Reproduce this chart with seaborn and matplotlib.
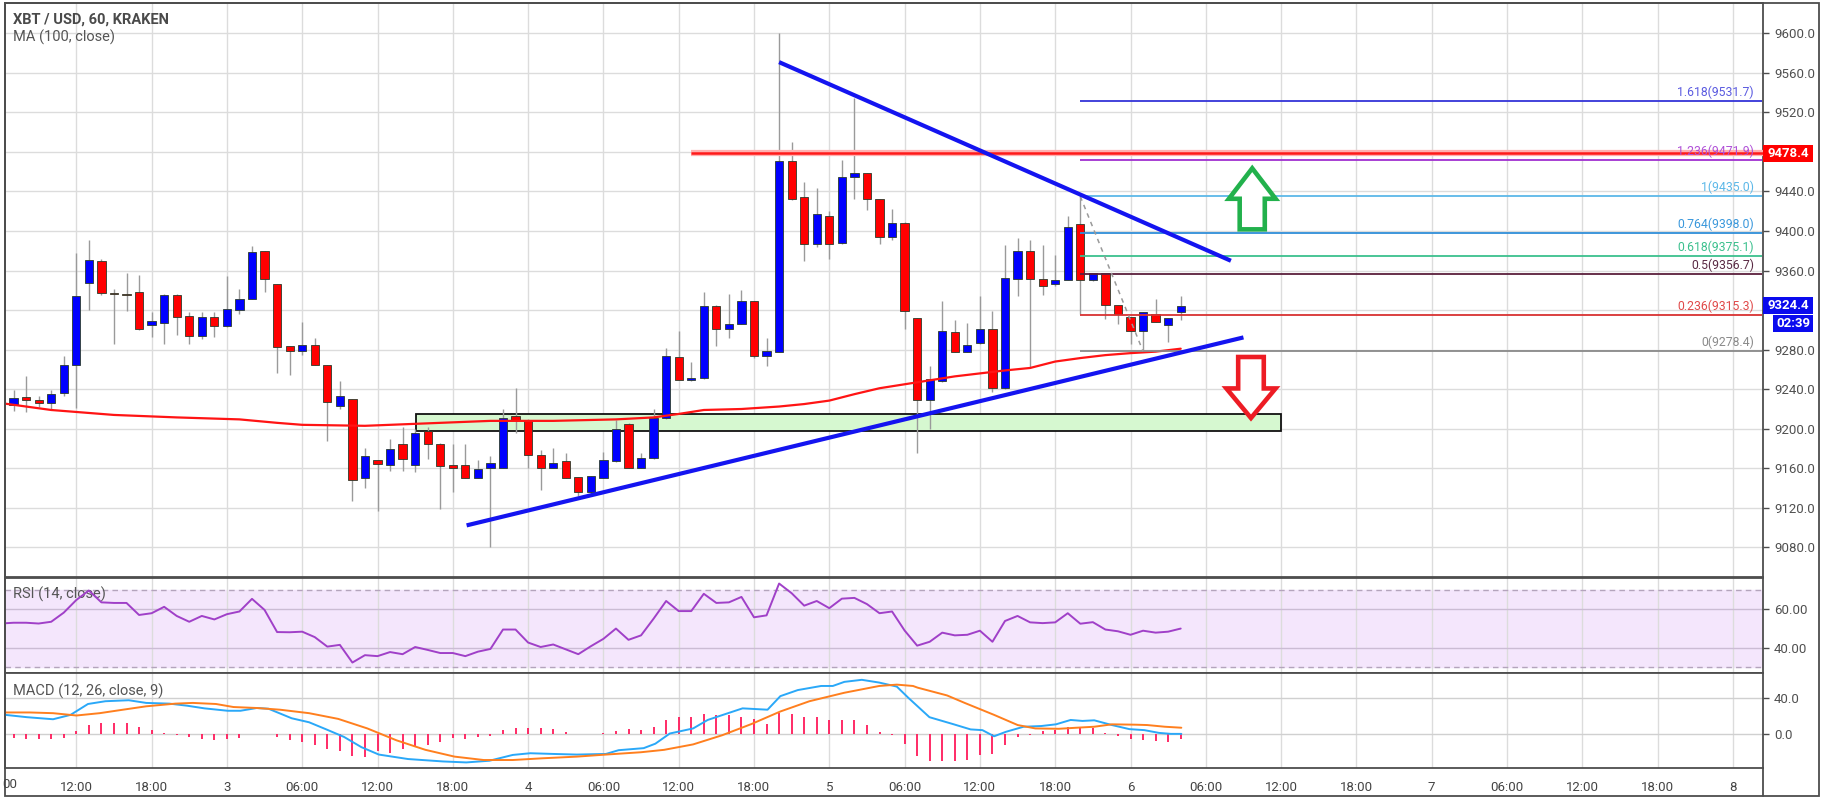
import numpy as np
import pandas as pd
import matplotlib
matplotlib.use("Agg")
import matplotlib.pyplot as plt
import seaborn as sns
from matplotlib import font_manager
from matplotlib.patches import Polygon, Rectangle
from matplotlib.transforms import blended_transform_factory
from matplotlib.ticker import FuncFormatter, FixedLocator

# ---------------- data ----------------
candle_hour = list(range(6, 101))  # hours since day 2 00:00
opens = [9241, 9224, 9232, 9229, 9226, 9236, 9264, 9347, 9370, 9337, 9336, 9338, 9305, 9307, 9335, 9314, 9294, 9313, 9304, 9320,
         9331, 9380, 9346, 9284, 9279, 9285, 9264, 9223, 9230, 9150, 9168, 9163, 9185, 9163, 9198, 9185, 9163, 9163, 9150, 9160,
         9160, 9213, 9209, 9173, 9160, 9167, 9151, 9136, 9150, 9167, 9205, 9160, 9170, 9211, 9273, 9249, 9251, 9324, 9301, 9306,
         9329, 9274, 9278, 9471, 9434, 9387, 9415, 9388, 9455, 9459, 9432, 9394, 9408, 9312, 9229, 9248, 9298, 9278, 9287, 9301,
         9241, 9351, 9380, 9351, 9346, 9350, 9407, 9350, 9358, 9325, 9313, 9299, 9316, 9305, 9318]
highs = [9244, 9239, 9253, 9233, 9239, 9274, 9378, 9391, 9372, 9341, 9358, 9356, 9318, 9336, 9336, 9318, 9318, 9318, 9355, 9341,
         9385, 9380, 9346, 9284, 9308, 9292, 9264, 9248, 9230, 9181, 9168, 9190, 9202, 9200, 9202, 9186, 9185, 9185, 9168, 9172,
         9220, 9241, 9210, 9179, 9181, 9176, 9151, 9152, 9177, 9209, 9206, 9176, 9220, 9282, 9299, 9268, 9338, 9325, 9336, 9340,
         9329, 9292, 9600, 9490, 9450, 9443, 9420, 9472, 9535, 9459, 9432, 9422, 9409, 9312, 9263, 9329, 9310, 9307, 9334, 9319,
         9386, 9393, 9391, 9386, 9376, 9415, 9435, 9358, 9358, 9325, 9313, 9318, 9331, 9312, 9334]
lows = [9222, 9218, 9217, 9222, 9220, 9233, 9221, 9320, 9335, 9286, 9319, 9300, 9293, 9286, 9295, 9286, 9291, 9293, 9303, 9316,
        9331, 9338, 9256, 9254, 9275, 9264, 9188, 9220, 9127, 9140, 9117, 9157, 9157, 9156, 9169, 9119, 9136, 9150, 9150, 9080,
        9160, 9196, 9160, 9138, 9160, 9150, 9132, 9134, 9150, 9166, 9160, 9160, 9169, 9210, 9249, 9248, 9250, 9284, 9292, 9306,
        9272, 9263, 9278, 9431, 9370, 9384, 9372, 9387, 9432, 9421, 9387, 9391, 9301, 9176, 9200, 9247, 9278, 9278, 9286, 9237,
        9240, 9334, 9261, 9335, 9344, 9350, 9316, 9349, 9311, 9306, 9286, 9278, 9308, 9288, 9310]
closes = [9224, 9231, 9229, 9226, 9235, 9265, 9334, 9371, 9337, 9336, 9335, 9301, 9309, 9335, 9313, 9294, 9313, 9304, 9321, 9331,
          9379, 9351, 9283, 9279, 9285, 9264, 9227, 9233, 9148, 9172, 9164, 9180, 9169, 9196, 9185, 9162, 9160, 9150, 9159, 9165,
          9211, 9209, 9173, 9160, 9165, 9150, 9136, 9152, 9168, 9200, 9160, 9170, 9211, 9274, 9249, 9251, 9324, 9301, 9306, 9329,
          9274, 9279, 9471, 9432, 9387, 9417, 9387, 9455, 9459, 9432, 9394, 9408, 9319, 9229, 9250, 9299, 9278, 9285, 9301, 9241,
          9352, 9380, 9351, 9344, 9350, 9404, 9350, 9358, 9325, 9316, 9299, 9318, 9308, 9312, 9324]

ma_hours = [6, 10, 15, 20, 25, 28, 30, 35, 40, 45, 50, 55, 58, 60, 62, 65, 68, 70, 72, 74, 76, 78, 80, 82, 84, 86, 88, 90,
            92, 94, 96, 98, 100]
ma_values = [9226, 9219, 9214, 9211.5, 9209.5, 9206, 9204, 9203, 9205.5, 9208, 9208, 9209.5, 9211.5, 9215, 9219, 9220,
             9222.5, 9225, 9228.5, 9235, 9241, 9245, 9249, 9253, 9256, 9259, 9261.5, 9268, 9271.5, 9274.5, 9276.5, 9278, 9281]

rsi_values = [52.6, 53.0, 53.0, 52.6, 53.5, 58.2, 64.7, 69.6, 63.5, 63.2, 63.2, 57.0, 57.9, 61.2, 56.5, 53.5, 56.5, 54.7,
              57.4, 58.8, 65.3, 59.6, 48.2, 48.1, 48.4, 45.6, 40.7, 41.6, 32.5, 36.3, 35.8, 37.9, 36.8, 40.5, 39.0, 37.4,
              37.4, 35.8, 38.1, 39.5, 49.5, 49.5, 42.8, 40.5, 41.8, 39.3, 36.8, 40.9, 44.7, 50.0, 44.2, 46.5, 55.1, 64.2,
              59.0, 59.0, 67.9, 63.2, 63.5, 66.3, 55.8, 56.8, 73.2, 68.2, 61.8, 64.2, 60.5, 65.4, 65.8, 62.6, 57.9, 58.8,
              49.0, 41.2, 43.2, 47.9, 46.5, 46.8, 48.9, 43.2, 53.9, 56.5, 53.2, 52.8, 53.2, 57.9, 52.5, 53.3, 49.5, 48.6,
              46.8, 48.9, 47.9, 48.4, 50.0]

macd_hours = [6.35, 8.07, 10.15, 11.54, 12.93, 14.32, 16.18, 17.57, 19.42, 20.82, 22.21, 24.06, 25.08, 26.38, 27.31,
              29.16, 30.55, 31.94, 33.33, 34.72, 36.11, 38.43, 41.21, 43.07, 44.92, 46.78, 48.17, 50.02, 51.88, 54.20,
              55.21, 57.21, 58.14, 59.29, 61.15, 62.31, 63.93, 65.09, 67.08, 68.10, 69.49, 71.35, 72.28, 73.20, 74.59,
              75.98, 77.38, 78.30, 79.98, 81.85, 83.26, 84.20, 85.13, 86.07, 87.48, 88.89, 90.06, 91.23, 92.17, 93.11,
              94.52, 95.92, 97.10, 98.27, 99.21, 100.05]
macd_values = [21.3, 18.7, 16.4, 21.3, 33.5, 36.6, 37.7, 34.7, 33.9, 31.6, 28.6, 25.9, 25.9, 29.0, 28.2,
               17.5, 13.0, 4.9, -3.4, -14.9, -23.2, -28.2, -30.9, -32.0, -30.1, -23.6, -21.7, -22.5, -23.2, -22.5,
               -18.3, -16.0, -11.0, 0.4, 6.1, 15.6, 23.2, 28.6, 27.1, 42.3, 49.1, 53.7, 53.7, 58.3, 60.6,
               57.5, 53.0, 40.4, 18.7, 11.0, 5.0, 4.2, -2.7, 2.3, 8.0, 8.8, 10.7, 15.6, 14.5, 15.2,
               9.9, 5.3, 4.2, 1.1, 0.0, 0.0]
signal_hours = [6.35, 8.30, 10.15, 12.01, 13.86, 15.72, 17.57, 19.89, 21.28, 23.13, 24.52, 26.38, 28.23, 30.55, 32.87,
                35.19, 37.51, 39.82, 42.14, 44.46, 46.78, 49.10, 51.88, 54.20, 56.98, 58.83, 61.15, 63.47, 65.79, 68.10,
                70.42, 73.20, 75.98, 77.38, 78.67, 79.04, 81.38, 82.79, 85.13, 87.01, 88.42, 90.29, 91.70, 93.11, 94.52,
                96.39, 97.33, 98.74, 100.05]
signal_values = [24.0, 24.0, 23.2, 20.6, 23.2, 27.1, 30.9, 33.9, 34.7, 33.5, 30.1, 29.0, 27.1, 23.2, 16.8,
                 6.1, -7.2, -17.9, -25.5, -29.3, -29.3, -27.4, -25.5, -23.2, -20.6, -17.9, -11.8, -1.5, 11.0, 25.1,
                 36.6, 46.1, 53.7, 55.2, 53.7, 51.8, 43.1, 34.7, 21.3, 9.9, 6.1, 5.7, 6.9, 8.0, 10.7,
                 10.3, 9.9, 8.0, 6.9]
hist_hours = list(range(7, 101))
hist_values = [-4.2, -5.3, -5.7, -6.1, -4.6, 3.0, 9.9, 11.8, 11.8, 11.8, 8.0, 4.2, 1.5, -1.5, -3.4, -5.7, -7.2, -5.7,
               -4.2, 0.3, -0.4, -3.4, -7.2, -9.1, -12.2, -16.8, -18.7, -24.4, -25.5, -19.4, -21.7, -16.8, -13.7, -12.2,
               -9.1, -4.2, -5.3, -3.4, -1.9, 4.2, 6.9, 6.9, 6.1, 5.3, 2.3, 0.3, 0.3, 1.5, 3.4, 5.0, 4.2, 8.0, 15.6, 19.4,
               18.7, 22.5, 21.3, 21.3, 18.7, 16.4, 11.0, 23.2, 22.5, 19.4, 18.7, 15.6, 15.2, 15.6, 9.9, 2.3, -1.5, -11.0,
               -24.4, -30.9, -30.9, -30.1, -29.0, -23.6, -22.5, -13.0, -3.4, -1.1, 2.7, 4.2, 8.0, 6.1, 6.1, 1.1, -2.7,
               -6.1, -7.2, -8.4, -9.5, -6.1]

fib_ratios = ["1.618", "1.236", "1", "0.764", "0.618", "0.5", "0.236", "0"]
fib_levels = [9531.7, 9471.9, 9435.0, 9398.0, 9375.1, 9356.7, 9315.3, 9278.4]
fib_colors = ["#3434d8", "#a030d0", "#5cb8e8", "#2f8ed8", "#3cc08e", "#5a1f3c", "#d83232", "#8a8a8a"]
fib_text_colors = ["#5a5ae0", "#b050d8", "#5cb8e8", "#3a98dc", "#3cc08e", "#5a2a44", "#e04a4a", "#8a8a8a"]
fib_start_hour = 92

price_ticks = list(range(9080, 9601, 40))
hidden_price_ticks = [9480, 9320]   # covered by the price boxes
edge_label = "00"                   # visible tail of the clipped first time label
resistance_price = 9478.4
resistance_start = 61
down_trend = ([68, 104.0], [9570.8, 9369.9])
up_trend = ([43.1, 105.0], [9102.3, 9292.4])
zone = (39.1, 108.0, 9197.8, 9214.6)
fib_swing = ([92, 97], [9435.0, 9278.4])
last_price = 9324.4
countdown = "02:39"

# ---------------- layout ----------------
W, H = 1823, 799
names = {f.name for f in font_manager.fontManager.ttflist}
base_font = 'Liberation Sans Narrow' if 'Liberation Sans Narrow' in names else 'Roboto'
sns.set_style("white")
plt.rcParams['font.family'] = [base_font, 'DejaVu Sans']

fig = plt.figure(figsize=(W / 100, H / 100), dpi=100)
fig.patch.set_facecolor('white')

def ax_px(l, t, r, b):
    return fig.add_axes([l / W, 1 - b / H, (r - l) / W, (b - t) / H])

X0, PPH = -74.3, 12.55
PL, PR = 5, 1763
xlim = ((PL - X0) / PPH, (PR - X0) / PPH)

ax = ax_px(PL, 3, PR, 577)
ax_rsi = ax_px(PL, 577.5, PR, 673.3)
ax_macd = ax_px(PL, 673.3, PR, 768.4)

EDGE = '#4d4d4d'
grid_hours = list(range(12, 145, 6))

def hour_label(h):
    d, hh = 2 + h // 24, h % 24
    return str(d) if hh == 0 else f"{hh:02d}:00"

for a in (ax, ax_rsi, ax_macd):
    a.set_xlim(*xlim)
    a.set_facecolor('white')
    for s in a.spines.values():
        s.set_color(EDGE)
        s.set_linewidth(1.3)
    a.xaxis.set_major_locator(FixedLocator(grid_hours))
    a.grid(axis='x', color='#dcdcdc', lw=1)
    a.set_axisbelow(True)
    a.yaxis.tick_right()
    a.tick_params(axis='y', length=4, width=1, color=EDGE, labelsize=9.5, labelcolor='#505050', pad=4)
    a.tick_params(axis='x', length=0)

ax.set_xticklabels([])
ax_rsi.set_xticklabels([])
ax_macd.set_xticklabels([hour_label(h) for h in grid_hours])
ax_macd.tick_params(axis='x', labelsize=9.5, labelcolor='#444444', pad=9)
fig.text(2 / W, 1 - 784.5 / H, edge_label, ha='left', va='center', fontsize=9.5, color='#444444')

# ---------------- main panel ----------------
ax.set_ylim(9050.1, 9630.6)
ax.set_yticks(price_ticks)
ax.yaxis.set_major_formatter(FuncFormatter(
    lambda v, p: "" if round(v) in hidden_price_ticks else f"{v:.1f}"))
ax.grid(axis='y', color='#dcdcdc', lw=1)

df = pd.DataFrame({'h': candle_hour, 'o': opens, 'hi': highs, 'lo': lows, 'c': closes})
df['up'] = df['c'] >= df['o']
df['bottom'] = df[['o', 'c']].min(axis=1)
df['height'] = (df['c'] - df['o']).abs().clip(lower=1.2)

zl, zr, zb, zt = zone
ax.add_patch(Rectangle((zl, zb), zr - zl, zt - zb, facecolor='#d6f8d0', edgecolor='#111111', lw=1.3, zorder=1.5))

ax.vlines(df['h'], df['lo'], df['hi'], color='#9a9a9a', lw=1, zorder=2)
ax.bar(df['h'], df['height'], bottom=df['bottom'], width=0.66,
       color=np.where(df['up'], '#0000ff', '#ff0000'), edgecolor='#2b3b2b', linewidth=0.6, zorder=3)

sns.lineplot(x=ma_hours, y=ma_values, ax=ax, color='#ff1414', lw=1.6, zorder=4)

# trend lines
ax.plot(*down_trend, color='#1414f0', lw=3.0, solid_capstyle='butt', zorder=5)
ax.plot(*up_trend, color='#1414f0', lw=3.0, solid_capstyle='butt', zorder=5)

# resistance line
ax.hlines(resistance_price, resistance_start, xlim[1], color='#ffb0b0', lw=4.5, zorder=4)
ax.hlines(resistance_price, resistance_start, xlim[1], color='#ff1a1a', lw=1.8, zorder=4.1)

# fibonacci
fib_end = (1761.7 - X0) / PPH
label_x = (1754 - X0) / PPH
for r, lv, col, tcol in zip(fib_ratios, fib_levels, fib_colors, fib_text_colors):
    ax.hlines(lv, fib_start_hour, fib_end, color=col, lw=1.3, zorder=4)
    ax.annotate(f"{r}({lv:.1f})", (label_x, lv), xytext=(0, 1.5), textcoords='offset points',
                ha='right', va='bottom', fontsize=8.8, color=tcol, zorder=6)
ax.plot(*fib_swing, color='#9a9a9a', lw=1.1, ls=(0, (3, 3)), zorder=4)

# arrows
def arrow_poly(cx, tip, base, tail, hw, sw):
    return [(cx, tip), (cx + hw, base), (cx + sw, base), (cx + sw, tail),
            (cx - sw, tail), (cx - sw, base), (cx - hw, base)]

ax.add_patch(Polygon(arrow_poly(105.7, 9463.4, 9432.6, 9401.7, 1.86, 1.0), closed=True,
                     facecolor='white', edgecolor='#22b14c', lw=3.3, joinstyle='miter', zorder=6))
ax.add_patch(Polygon(arrow_poly(105.6, 9210.9, 9240.8, 9272.6, 1.96, 1.02), closed=True,
                     facecolor='white', edgecolor='#ed1c24', lw=3.3, joinstyle='miter', zorder=6))

# price boxes on the scale
bt = blended_transform_factory(ax.transAxes, ax.transData)
bw = 50 / (PR - PL)
ax.add_patch(Rectangle((1.0, resistance_price - 8.8), bw, 17.6, transform=bt, facecolor='#ff0000',
                       edgecolor='none', clip_on=False, zorder=10))
ax.text(1.0 + bw / 2, resistance_price, f"{resistance_price:.1f}", transform=bt, ha='center', va='center',
        color='white', fontsize=9.5, fontweight='bold', clip_on=False, zorder=11)
ax.add_patch(Rectangle((1.0, last_price - 8.6), bw, 17.2, transform=bt, facecolor='#0a0aee',
                       edgecolor='none', clip_on=False, zorder=10))
ax.text(1.0 + bw / 2, last_price, f"{last_price:.1f}", transform=bt, ha='center', va='center',
        color='white', fontsize=9.5, fontweight='bold', clip_on=False, zorder=11)
ax.add_patch(Rectangle((1.0 + 10 / (PR - PL), last_price - 26.8), 40 / (PR - PL), 17.8, transform=bt,
                       facecolor='#0a0aee', edgecolor='none', clip_on=False, zorder=10))
ax.text(1.0 + 30 / (PR - PL), last_price - 17.9, countdown, transform=bt, ha='center', va='center',
        color='white', fontsize=9.5, fontweight='bold', clip_on=False, zorder=11)

fig.text(13 / W, 1 - 20 / H, "XBT / USD, 60, KRAKEN", ha='left', va='center', fontsize=10.5,
         fontweight='bold', color='#4a4a4a')
fig.text(13 / W, 1 - 37.5 / H, "MA (100, close)", ha='left', va='center', fontsize=10.5, color='#555555')

# ---------------- RSI ----------------
ax_rsi.set_ylim(26.96, 76.3)
ax_rsi.set_yticks([40, 60])
ax_rsi.yaxis.set_major_formatter(FuncFormatter(lambda v, p: f"{v:.2f}"))
ax_rsi.grid(axis='y', color='#cbbcd4', lw=1)
ax_rsi.axhspan(30, 70, color='#f4e6fc', zorder=0)
ax_rsi.axhline(70, color='#b4a4bc', lw=1, ls=(0, (4, 3)))
ax_rsi.axhline(30, color='#b4a4bc', lw=1, ls=(0, (4, 3)))
sns.lineplot(x=candle_hour, y=rsi_values, ax=ax_rsi, color='#a040c8', lw=1.4, zorder=4)
ax_rsi.text(7.8 / (PR - PL), 0.82, "RSI (14, close)", transform=ax_rsi.transAxes, ha='left',
            va='center', fontsize=10.5, color='#555555')

# ---------------- MACD ----------------
ax_macd.set_ylim(-38.7, 67.9)
ax_macd.set_yticks([0, 40])
ax_macd.yaxis.set_major_formatter(FuncFormatter(lambda v, p: f"{v:.1f}"))
ax_macd.grid(axis='y', color='#d0d0d0', lw=1)
ax_macd.vlines(hist_hours, 0, hist_values, color='#ff1a5a', lw=1.3, zorder=3)
sns.lineplot(x=macd_hours, y=macd_values, ax=ax_macd, color='#2aa8f8', lw=1.4, zorder=4)
sns.lineplot(x=signal_hours, y=signal_values, ax=ax_macd, color='#ff7f1e', lw=1.4, zorder=4)
ax_macd.text(7.8 / (PR - PL), 0.81, "MACD (12, 26, close, 9)", transform=ax_macd.transAxes, ha='left',
             va='center', fontsize=10.5, color='#555555')

for a in (ax, ax_rsi, ax_macd):
    a.set_xlabel('')
    a.set_ylabel('')

# outer frame
fig.patches.append(Rectangle((5 / W, 1 - 796 / H), 1814 / W, 793 / H, transform=fig.transFigure,
                             fill=False, edgecolor=EDGE, lw=1.3))
fig.lines.append(plt.Line2D([PR / W, PR / W], [1 - 796 / H, 1 - 768.4 / H], transform=fig.transFigure,
                            color=EDGE, lw=1.3))

fig.savefig("out.png", dpi=100)
